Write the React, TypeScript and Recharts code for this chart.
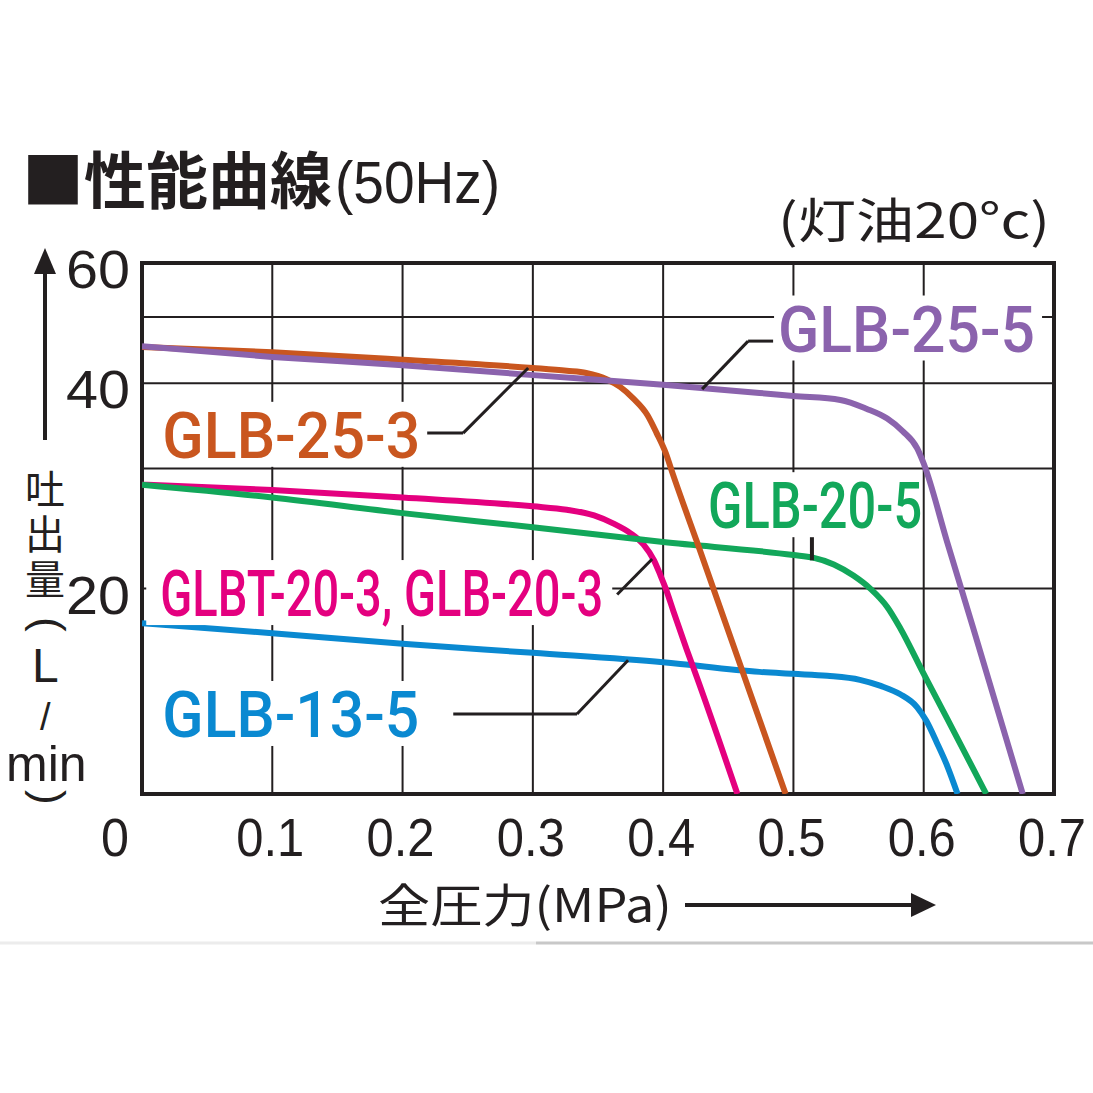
import React from 'react'
import {
  LineChart,
  Line,
  XAxis,
  YAxis,
  CartesianGrid,
  ReferenceArea,
  ReferenceLine,
  ReferenceDot,
} from 'recharts'

const INK = '#231f20'
const PURPLE = '#8b63ad'
const ORANGE = '#c9561f'
const GREEN = '#12a75a'
const PINK = '#e4007f'
const BLUE = '#0a89d1'

const pressureTicks = [0, 0.1, 0.2, 0.3, 0.4, 0.5, 0.6, 0.7]
const flowTicks = [10, 20, 30, 40, 50, 60]
const flowLabels = [20, 40, 60]

// GLB-25-5
const glb255Pressure = [0, 0.1, 0.2, 0.3, 0.4, 0.474, 0.5, 0.536, 0.556, 0.572, 0.584, 0.595, 0.6, 0.618, 0.638, 0.676]
const glb255Flow = [45.3, 43.7, 42.5, 41.1, 39.8, 38.7, 38.3, 37.8, 36.7, 35.5, 34.0, 32.1, 30.5, 23.4, 17.5, 10]

// GLB-25-3
const glb253Pressure = [0, 0.1, 0.2, 0.3, 0.326, 0.341, 0.357, 0.367, 0.377, 0.388, 0.395, 0.402, 0.407, 0.426, 0.494]
const glb253Flow = [45.2, 44.4, 43.3, 42.1, 41.7, 41.4, 40.5, 39.5, 38.0, 35.9, 33.8, 31.6, 29.6, 23.4, 10]

// GLB-20-5
const glb205Pressure = [0, 0.1, 0.2, 0.3, 0.4, 0.5, 0.515, 0.531, 0.546, 0.559, 0.572, 0.582, 0.6, 0.618, 0.648]
const glb205Flow = [28.4, 27.2, 25.8, 24.6, 23.4, 22.4, 22.2, 21.7, 20.9, 20.0, 18.8, 17.5, 15.0, 12.9, 10]

// GLBT-20-3, GLB-20-3
const glb203Pressure = [0, 0.1, 0.2, 0.3, 0.326, 0.347, 0.362, 0.375, 0.385, 0.393, 0.398, 0.402, 0.408, 0.418, 0.426, 0.457]
const glb203Flow = [28.4, 27.9, 27.2, 26.4, 26.1, 25.6, 24.9, 24.1, 23.2, 22.0, 20.9, 20.0, 18.5, 16.3, 14.8, 10]

// GLB-13-5
const glb135Pressure = [0, 0.1, 0.2, 0.3, 0.4, 0.474, 0.5, 0.526, 0.551, 0.567, 0.582, 0.595, 0.602, 0.61, 0.618, 0.626]
const glb135Flow = [17.8, 17.2, 16.6, 16.1, 15.6, 15.1, 15.0, 14.9, 14.7, 14.4, 14.0, 13.4, 12.8, 11.9, 11.0, 10]

const toPoints = (p: number[], q: number[]) => p.map((x, i) => ({ x, y: q[i] }))

// drawing order: later ones on top
const series = [
  { name: 'GLB-13-5', color: BLUE, data: toPoints(glb135Pressure, glb135Flow) },
  { name: 'GLBT-20-3', color: PINK, data: toPoints(glb203Pressure, glb203Flow) },
  { name: 'GLB-20-5', color: GREEN, data: toPoints(glb205Pressure, glb205Flow) },
  { name: 'GLB-25-3', color: ORANGE, data: toPoints(glb253Pressure, glb253Flow) },
  { name: 'GLB-25-5', color: PURPLE, data: toPoints(glb255Pressure, glb255Flow) },
]

const labels = [
  { text: 'GLB-25-5', color: PURPLE, x: 0.4882, y: 48.1, width: 257, boxLeft: -4, boxWidth: 268 },
  { text: 'GLB-25-3', color: ORANGE, x: 0.0156, y: 33.6, width: 258, boxLeft: -16, boxWidth: 279 },
  { text: 'GLB-20-5', color: GREEN, x: 0.4345, y: 26.5, width: 214, boxLeft: -8, boxWidth: 222 },
  { text: 'GLBT-20-3, GLB-20-3', color: PINK, x: 0.014, y: 19.7, width: 443, boxLeft: -14, boxWidth: 466 },
  { text: 'GLB-13-5', color: BLUE, x: 0.0156, y: 13.1, width: 257, boxLeft: -16, boxWidth: 282 },
]

const leaders: [number, number][][] = [
  [[0.4844, 46.1], [0.4652, 46.1], [0.4299, 39.2]],
  [[0.2189, 33.8], [0.2465, 33.8], [0.2964, 42.1]],
  [[0.5142, 23.8], [0.5142, 22.0]],
  [[0.3647, 19.6], [0.3916, 22.1]],
  [[0.2389, 13.1], [0.3339, 13.1], [0.3731, 15.7]],
]

const NUM_FONT = "'Liberation Sans', Arial, sans-serif"
const CJK_FONT = "'Noto Sans CJK JP', 'Noto Sans CJK SC', sans-serif"

function XTick(props: any) {
  const { x, y, payload } = props
  const v = payload.value as number
  const isZero = v === 0
  return (
    <text
      x={isZero ? x - 27 : x - 2}
      y={y + 62}
      textAnchor="middle"
      fill={INK}
      fontSize={54}
      fontFamily={NUM_FONT}
      textLength={isZero ? 28 : 68}
      lengthAdjust="spacingAndGlyphs"
    >
      {isZero ? '0' : v.toFixed(1)}
    </text>
  )
}

function YTick(props: any) {
  const { x, y, payload } = props
  const v = payload.value as number
  if (!flowLabels.includes(v)) return <g />
  return (
    <text
      x={x - 12}
      y={y + 25}
      textAnchor="end"
      fill={INK}
      fontSize={54}
      fontFamily={NUM_FONT}
      textLength={64}
      lengthAdjust="spacingAndGlyphs"
    >
      {v}
    </text>
  )
}

function LabelShape(props: any) {
  const { cx, cy, text, color, width, boxLeft, boxWidth } = props
  return (
    <g>
      <rect x={cx + boxLeft} y={cy - 33} width={boxWidth} height={65} fill="#fff" />
      <text
        x={cx}
        y={cy + 23}
        fill={color}
        fontSize={64}
        fontWeight={500}
        fontFamily="Roboto, 'Liberation Sans', sans-serif"
        textLength={width}
        lengthAdjust="spacingAndGlyphs"
      >
        {text}
      </text>
    </g>
  )
}

function Decorations() {
  return (
    <svg
      width={1093}
      height={1093}
      style={{ position: 'absolute', left: 0, top: 0, pointerEvents: 'none' }}
    >
      {/* title */}
      <text x={22} y={204} fill={INK} fontSize={62} fontWeight={700} fontFamily={CJK_FONT}>
        ■性能曲線
      </text>
      <text x={335} y={203} fill={INK} fontSize={60} fontFamily={NUM_FONT} textLength={165} lengthAdjust="spacingAndGlyphs">
        (50Hz)
      </text>
      <text x={778} y={238} fill={INK} fontSize={48} fontFamily={CJK_FONT} textLength={272} lengthAdjust="spacingAndGlyphs">
        (灯油20°c)
      </text>

      {/* y axis title, stacked vertically */}
      <line x1={45} y1={270} x2={45} y2={440} stroke={INK} strokeWidth={4} />
      <polygon points="45,248 34,274 56,274" fill={INK} />
      <text
        x={45}
        y={469}
        fill={INK}
        fontFamily={CJK_FONT}
        fontSize={40}
        letterSpacing={5}
        style={{ writingMode: 'vertical-rl' }}
      >
        吐出量
      </text>
      <text transform="translate(34 617) rotate(90)" x={0} y={0} fill={INK} fontFamily={NUM_FONT} fontSize={44}>(</text>
      <text x={32} y={682} fill={INK} fontFamily={NUM_FONT} fontSize={48}>L</text>
      <text x={40} y={730} fill={INK} fontFamily={NUM_FONT} fontSize={38}>/</text>
      <text x={6} y={781} fill={INK} fontFamily={NUM_FONT} fontSize={50}>min</text>
      <text transform="translate(34 790) rotate(90)" x={0} y={0} fill={INK} fontFamily={NUM_FONT} fontSize={44}>)</text>

      {/* x axis title */}
      <text x={378} y={922} fill={INK} fontSize={46} fontFamily={CJK_FONT} textLength={294} lengthAdjust="spacingAndGlyphs">
        全圧力(MPa)
      </text>
      <line x1={685} y1={905} x2={914} y2={905} stroke={INK} strokeWidth={4} />
      <polygon points="936,905 911,893 911,917" fill={INK} />

      {/* divider */}
      <line x1={0} y1={943} x2={536} y2={943} stroke="#ececec" strokeWidth={3} />
      <line x1={536} y1={943} x2={1093} y2={943} stroke="#c8c8c8" strokeWidth={3} />
    </svg>
  )
}

export default function App() {
  return (
    <div style={{ position: 'absolute', left: 0, top: 0, width: 1093, height: 1093, background: '#fff' }}>
      <LineChart width={1093} height={1093} margin={{ top: 263, right: 39, bottom: 239, left: 0 }}>
        <XAxis
          dataKey="x"
          type="number"
          domain={[0, 0.7]}
          ticks={pressureTicks}
          allowDataOverflow
          axisLine={false}
          tickLine={false}
          tickSize={0}
          tickMargin={0}
          height={60}
          tick={XTick}
          interval={0}
        />
        <YAxis
          type="number"
          scale="log"
          domain={[10, 60]}
          ticks={flowTicks}
          allowDataOverflow
          axisLine={false}
          tickLine={false}
          tickSize={0}
          tickMargin={0}
          width={142}
          tick={YTick}
          interval={0}
        />
        <CartesianGrid stroke={INK} strokeWidth={2} />
        {labels.map((l) => (
          <ReferenceDot
            key={l.text}
            x={l.x}
            y={l.y}
            r={0}
            ifOverflow="visible"
            shape={(p: any) => <LabelShape {...p} {...l} />}
          />
        ))}
        <ReferenceArea x1={0} x2={0.7} y1={10} y2={60} fill="none" stroke={INK} strokeWidth={4} ifOverflow="visible" />
        {series.map((s) => (
          <Line
            key={s.name}
            data={s.data}
            dataKey="y"
            type="monotone"
            stroke={s.color}
            strokeWidth={6}
            dot={false}
            activeDot={false}
            isAnimationActive={false}
          />
        ))}
        {leaders.flatMap((pts, i) =>
          pts.slice(1).map((pt, j) => (
            <ReferenceLine
              key={`${i}-${j}`}
              segment={[
                { x: pts[j][0], y: pts[j][1] },
                { x: pt[0], y: pt[1] },
              ]}
              stroke={INK}
              strokeWidth={i === 2 ? 4 : 3}
              ifOverflow="visible"
            />
          ))
        )}
      </LineChart>
      <Decorations />
    </div>
  )
}
